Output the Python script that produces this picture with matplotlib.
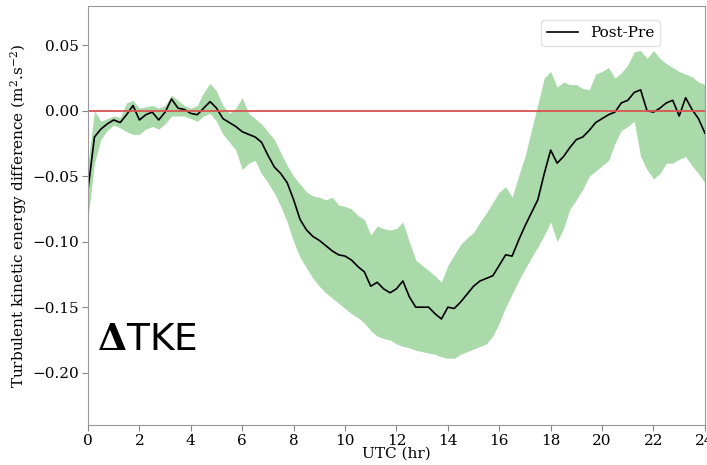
import numpy as np
import matplotlib
matplotlib.use("Agg")
import matplotlib.pyplot as plt

plt.rcParams['font.family'] = ['DejaVu Serif']
plt.rcParams['mathtext.fontset'] = 'dejavuserif'

# hours UTC, sampled every 15 min
hours = np.arange(0, 24.01, 0.25)

tke_diff = [
    -0.060, -0.020, -0.014, -0.010, -0.007, -0.009, -0.003, 0.004,
    -0.007, -0.003, -0.001, -0.007, -0.001, 0.009, 0.002, 0.001,
    -0.002, -0.003, 0.002, 0.007, 0.002, -0.006, -0.009, -0.012,
    -0.016, -0.018, -0.020, -0.024, -0.034, -0.043, -0.048, -0.055,
    -0.068, -0.083, -0.091, -0.096, -0.099, -0.103, -0.107, -0.110,
    -0.111, -0.114, -0.119, -0.123, -0.134, -0.131, -0.136, -0.139,
    -0.136, -0.130, -0.142, -0.150, -0.150, -0.150, -0.155, -0.159,
    -0.150, -0.151, -0.146, -0.140, -0.134, -0.130, -0.128, -0.126,
    -0.118, -0.110, -0.111, -0.099, -0.088, -0.078, -0.068, -0.048,
    -0.030, -0.040, -0.035, -0.028, -0.022, -0.020, -0.015, -0.009,
    -0.006, -0.003, -0.001, 0.006, 0.008, 0.014, 0.016, 0.000,
    -0.001, 0.002, 0.006, 0.008, -0.004, 0.010, 0.001, -0.006,
    -0.017,
]

tke_upper = [
    -0.040, 0.000, -0.008, -0.006, -0.004, -0.005, 0.006, 0.008,
    0.002, 0.003, 0.004, 0.002, 0.004, 0.012, 0.008, 0.004,
    0.002, 0.004, 0.014, 0.021, 0.015, 0.004, -0.002, 0.002,
    0.010, -0.002, -0.006, -0.010, -0.016, -0.022, -0.032, -0.042,
    -0.050, -0.056, -0.062, -0.065, -0.066, -0.068, -0.066, -0.072,
    -0.073, -0.075, -0.080, -0.083, -0.095, -0.088, -0.090, -0.091,
    -0.090, -0.085, -0.100, -0.114, -0.118, -0.122, -0.126, -0.131,
    -0.118, -0.110, -0.102, -0.097, -0.093, -0.085, -0.078, -0.070,
    -0.062, -0.058, -0.066, -0.050, -0.035, -0.015, 0.005, 0.025,
    0.030, 0.018, 0.022, 0.020, 0.020, 0.017, 0.016, 0.028,
    0.030, 0.033, 0.025, 0.029, 0.035, 0.045, 0.046, 0.040,
    0.046, 0.040, 0.036, 0.033, 0.030, 0.028, 0.026, 0.022,
    0.020,
]

tke_lower = [
    -0.082, -0.040, -0.022, -0.015, -0.011, -0.013, -0.016, -0.018,
    -0.018, -0.014, -0.012, -0.014, -0.010, -0.004, -0.004, -0.004,
    -0.006, -0.008, -0.004, -0.002, -0.008, -0.018, -0.024, -0.030,
    -0.045, -0.040, -0.038, -0.048, -0.055, -0.063, -0.073, -0.085,
    -0.100, -0.112, -0.120, -0.128, -0.134, -0.139, -0.143, -0.147,
    -0.151, -0.155, -0.158, -0.162, -0.168, -0.172, -0.174, -0.175,
    -0.178, -0.180, -0.181, -0.183, -0.184, -0.185, -0.186, -0.188,
    -0.189, -0.189, -0.186, -0.184, -0.182, -0.180, -0.178, -0.172,
    -0.162, -0.150, -0.140, -0.130, -0.121, -0.112, -0.104, -0.095,
    -0.085, -0.100, -0.090, -0.075, -0.068, -0.060, -0.050, -0.046,
    -0.042, -0.038, -0.025, -0.015, -0.012, -0.008, -0.035, -0.045,
    -0.052, -0.048, -0.040, -0.040, -0.037, -0.035, -0.042, -0.048,
    -0.055,
]

xticks = np.arange(0, 25, 2)
yticks = [-0.20, -0.15, -0.10, -0.05, 0.00, 0.05]

fig = plt.figure(figsize=(7.07, 4.65), dpi=100)
ax = fig.add_axes([0.1245, 0.086, 0.8725, 0.901])

ax.fill_between(hours, tke_lower, tke_upper, color='#2ca02c', alpha=0.4, linewidth=0)
ax.plot(hours, tke_diff, color='black', linewidth=1.2, label='Post-Pre')
ax.axhline(0, color='#d9534f', linewidth=1.3)

ax.set_xlim(0, 24)
ax.set_ylim(-0.24, 0.08)
ax.set_xticks(xticks)
ax.set_yticks(yticks)
ax.set_yticklabels([f"{v:.2f}".replace('-', '\u2212') for v in yticks])
ax.tick_params(labelsize=11, color='#888888', length=4, pad=2.5)
for sp in ax.spines.values():
    sp.set_color('#999999')

ax.set_xlabel('UTC (hr)', fontsize=11, labelpad=-1)
ax.set_ylabel(r'Turbulent kinetic energy difference (m$^2$.s$^{-2}$)', fontsize=11,
              labelpad=2)

ax.text(0.35, -0.183, r'$\mathbf{\Delta}$TKE', fontsize=27, family='DejaVu Sans',
        va='baseline', ha='left')
plt.rcParams['mathtext.fontset'] = 'dejavusans'

leg = ax.legend(loc='upper right', bbox_to_anchor=(0.94, 0.985), fontsize=11)
leg.get_frame().set_edgecolor('#dddddd')

fig.savefig('out.png', dpi=100)
